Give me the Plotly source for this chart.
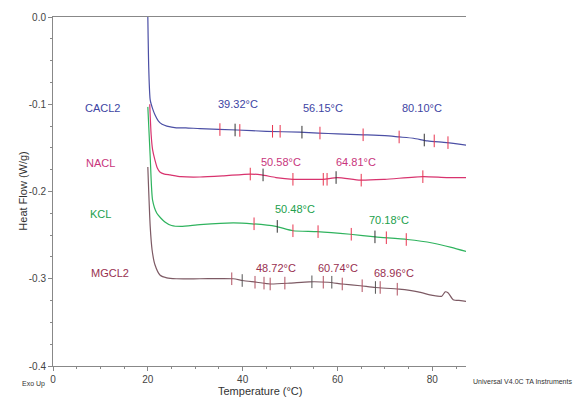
import plotly.graph_objects as go

# ---------------- data ----------------
cacl2_t = [20.0, 20.2, 20.5, 21.0, 21.5, 22.2, 23.0, 24.0, 26.0, 28.0, 31.0, 38.8, 45.0, 52.0, 56.0, 60.0, 65.4, 70.0, 73.0, 76.0, 79.0, 83.0, 87.3]
cacl2_y = [0.0, -0.06, -0.095, -0.105, -0.112, -0.119, -0.123, -0.125, -0.127, -0.127, -0.128, -0.1295, -0.131, -0.132, -0.133, -0.134, -0.135, -0.136, -0.1375, -0.139, -0.142, -0.144, -0.147]

nacl_t = [20.4, 20.7, 21.0, 21.5, 22.0, 22.6, 23.5, 24.7, 27.0, 31.0, 36.0, 41.6, 44.0, 47.0, 50.6, 54.0, 57.0, 60.0, 64.8, 70.0, 78.0, 83.0, 87.3]
nacl_y = [-0.100, -0.135, -0.152, -0.164, -0.173, -0.178, -0.180, -0.181, -0.183, -0.1834, -0.182, -0.180, -0.181, -0.184, -0.186, -0.186, -0.186, -0.184, -0.187, -0.186, -0.183, -0.184, -0.184]

kcl_t = [20.0, 20.5, 21.0, 21.9, 23.6, 25.0, 27.0, 31.0, 38.0, 42.0, 47.0, 50.6, 55.7, 62.7, 68.0, 74.7, 80.0, 84.0, 87.3]
kcl_y = [-0.103, -0.16, -0.210, -0.225, -0.235, -0.239, -0.240, -0.238, -0.236, -0.237, -0.240, -0.245, -0.246, -0.249, -0.252, -0.255, -0.259, -0.264, -0.269]

mgcl2_t = [20.0, 20.5, 20.9, 21.5, 22.6, 24.0, 26.0, 31.0, 38.0, 40.0, 43.0, 45.8, 50.0, 54.0, 58.0, 61.0, 64.8, 68.0, 73.0, 77.0, 80.0, 82.0, 82.7, 83.3, 84.4, 86.0, 87.3]
mgcl2_y = [-0.172, -0.240, -0.267, -0.284, -0.296, -0.299, -0.300, -0.300, -0.300, -0.302, -0.304, -0.306, -0.305, -0.3035, -0.304, -0.306, -0.308, -0.310, -0.312, -0.315, -0.319, -0.320, -0.315, -0.316, -0.324, -0.325, -0.326]

# analysis tick marks (red = limits, black = onsets)
cacl2_red_t = [35.2, 39.4, 46.3, 47.9, 56.3, 65.4, 73.0, 80.4, 83.3]
cacl2_red_y = [-0.129, -0.130, -0.131, -0.131, -0.133, -0.135, -0.1375, -0.142, -0.144]
cacl2_blk_t = [38.4, 52.5, 78.3]
cacl2_blk_y = [-0.1295, -0.132, -0.141]

nacl_red_t = [41.6, 50.6, 57.0, 57.8, 65.0, 78.0]
nacl_red_y = [-0.180, -0.186, -0.186, -0.186, -0.187, -0.183]
nacl_blk_t = [44.3, 59.7]
nacl_blk_y = [-0.181, -0.184]

kcl_red_t = [42.4, 50.6, 55.9, 62.9, 70.3, 74.5]
kcl_red_y = [-0.237, -0.245, -0.246, -0.249, -0.253, -0.255]
kcl_blk_t = [47.3, 67.9]
kcl_blk_y = [-0.240, -0.252]

mgcl2_red_t = [37.7, 42.6, 44.5, 45.8, 48.9, 57.0, 61.0, 65.2, 69.0, 72.6]
mgcl2_red_y = [-0.300, -0.304, -0.305, -0.306, -0.305, -0.304, -0.306, -0.308, -0.310, -0.312]
mgcl2_blk_t = [39.9, 54.6, 58.8, 68.0]
mgcl2_blk_y = [-0.302, -0.3035, -0.304, -0.310]

# labels
series_names = ["CACL2", "NACL", "KCL", "MGCL2"]
name_x = [10.5, 10.1, 10.1, 12.0]
name_y = [-0.104, -0.167, -0.226, -0.293]

peak_text = ["39.32°C", "56.15°C", "80.10°C", "50.58°C", "64.81°C", "50.48°C", "70.18°C", "48.72°C", "60.74°C", "68.96°C"]
peak_x = [39.0, 56.9, 77.8, 48.1, 63.9, 51.0, 70.9, 47.0, 60.1, 71.9]
peak_y = [-0.0997, -0.1043, -0.1043, -0.166, -0.166, -0.220, -0.233, -0.2877, -0.2877, -0.2934]
peak_series = [0, 0, 0, 1, 1, 2, 2, 3, 3, 3]

x_ticks = [0, 20, 40, 60, 80]
y_ticks = [0.0, -0.1, -0.2, -0.3, -0.4]
y_tick_text = ["0.0", "-0.1", "-0.2", "-0.3", "-0.4"]

# ---------------- style ----------------
line_colors = ["#4b4fa5", "#d8336e", "#2fb35e", "#7d5a64"]
label_colors = ["#3d44a3", "#c8357c", "#22a04c", "#98304f"]
red_mark = ["#e8344f", "#e8344f", "#e8344f", "#b05060"]
blk_mark = ["#333333", "#333333", "#333333", "#555555"]
FONT = "Liberation Sans, Arial, sans-serif"

fig = go.Figure()
curves = [(cacl2_t, cacl2_y), (nacl_t, nacl_y), (kcl_t, kcl_y), (mgcl2_t, mgcl2_y)]
reds = [(cacl2_red_t, cacl2_red_y), (nacl_red_t, nacl_red_y), (kcl_red_t, kcl_red_y), (mgcl2_red_t, mgcl2_red_y)]
blks = [(cacl2_blk_t, cacl2_blk_y), (nacl_blk_t, nacl_blk_y), (kcl_blk_t, kcl_blk_y), (mgcl2_blk_t, mgcl2_blk_y)]

for i, (t, y) in enumerate(curves):
    fig.add_trace(go.Scatter(x=t, y=y, mode="lines", line=dict(color=line_colors[i], width=1.2, shape="spline", smoothing=0.6),
                             name=series_names[i], showlegend=False, hoverinfo="skip", cliponaxis=False))
for i in range(4):
    rt, ry = reds[i]
    bt, by = blks[i]
    fig.add_trace(go.Scatter(x=rt, y=ry, mode="markers",
                             marker=dict(symbol="line-ns", size=9, line=dict(color=red_mark[i], width=1)),
                             showlegend=False, hoverinfo="skip"))
    fig.add_trace(go.Scatter(x=bt, y=by, mode="markers",
                             marker=dict(symbol="line-ns", size=9, line=dict(color=blk_mark[i], width=1)),
                             showlegend=False, hoverinfo="skip"))

annotations = []
for i, nm in enumerate(series_names):
    annotations.append(dict(x=name_x[i], y=name_y[i], text=nm, showarrow=False, xref="x", yref="y",
                            font=dict(family=FONT, size=11, color=label_colors[i])))
for txt, px, py, s in zip(peak_text, peak_x, peak_y, peak_series):
    annotations.append(dict(x=px, y=py, text=txt, showarrow=False, xref="x", yref="y",
                            font=dict(family=FONT, size=11, color=label_colors[s])))
annotations.append(dict(x=-0.08, y=-0.069, xref="paper", yref="paper", text="Exo Up", showarrow=False,
                        font=dict(family=FONT, size=7, color="#333333")))
annotations.append(dict(x=1.0, y=-0.06, xref="paper", yref="paper", text="Universal V4.0C TA Instruments", showarrow=False,
                        xanchor="left", xshift=5, font=dict(family=FONT, size=7, color="#333333")))
annotations.append(dict(x=0.5, y=-0.0716, xref="paper", yref="paper", text="Temperature (°C)", showarrow=False,
                        yanchor="middle", font=dict(family=FONT, size=11, color="#333333")))
annotations.append(dict(x=-0.094, y=0.5, xref="paper", yref="paper", text="Heat Flow (W/g)", showarrow=False,
                        textangle=-90, font=dict(family=FONT, size=11, color="#333333")))

# page body has an 8px margin; plot area lands at x 53..466, y 17..366 on screen
fig.update_layout(
    width=578, height=390,
    margin=dict(l=45, r=120, t=9, b=32, autoexpand=False),
    paper_bgcolor="white", plot_bgcolor="white",
    font=dict(family=FONT, size=10, color="#444444"),
    annotations=annotations,
    showlegend=False,
)
fig.update_xaxes(range=[0, 87.1], tickvals=x_ticks, ticks="outside", ticklen=4, tickcolor="#888888",
                 showline=True, linecolor="#888888", linewidth=1, mirror=True, showgrid=False, zeroline=False,
                 minor=dict(dtick=5, ticks="outside", ticklen=2, tickcolor="#888888"),
                 automargin=False, tickfont=dict(size=10, color="#444444"))
fig.update_yaxes(range=[-0.4, 0.0], tickvals=y_ticks, ticktext=y_tick_text, ticks="outside", ticklen=4, tickcolor="#888888",
                 showline=True, linecolor="#888888", linewidth=1, showgrid=False, zeroline=False,
                 minor=dict(dtick=0.025, ticks="outside", ticklen=2, tickcolor="#888888"),
                 automargin=False, tickfont=dict(size=10, color="#444444"))

fig.write_html("out.html")
